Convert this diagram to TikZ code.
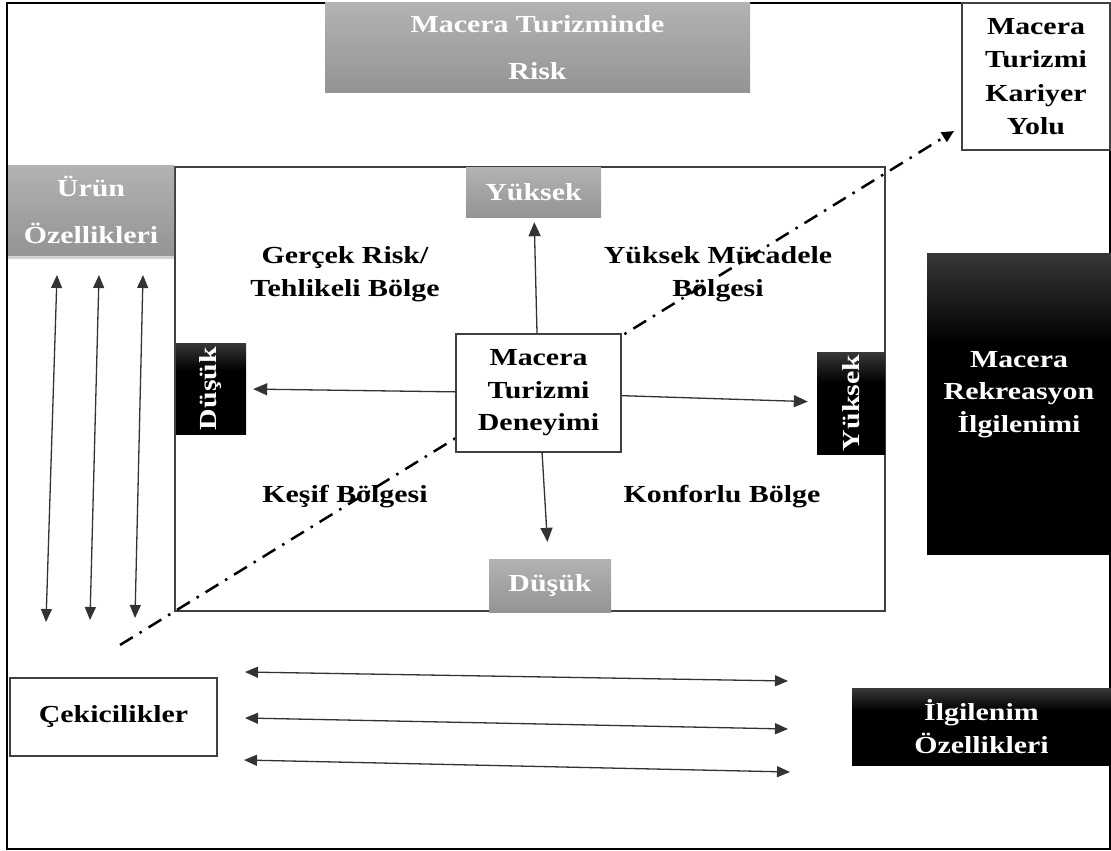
\documentclass[tikz,border=0pt]{standalone}
\usepackage{fontspec}
\setmainfont{Liberation Serif}[FakeStretch=1.22]
\usepackage{graphicx}
\usetikzlibrary{arrows.meta,shadows}
\pgfdeclareverticalshading{kara}{100bp}{color(0bp)=(black); color(60bp)=(black);
  color(75bp)=(black!78); color(100bp)=(black!78)}

\begin{document}
\begin{tikzpicture}[x=1pt,y=-1pt,
    every node/.style={font=\bfseries\fontsize{24.5}{32.5}\selectfont, align=center, inner sep=0pt},
    kutu/.style={draw=black!75, line width=1.5pt, fill=white},
    gri/.style={top color=black!30, bottom color=black!42, text=white,
      font=\bfseries\fontsize{24.5}{47.5}\selectfont},
    siyah/.style={shading=kara, text=white},
    ok/.style={line width=1.3pt, black!80, -{Triangle[length=14pt,width=12pt]}},
    ciftok/.style={line width=1.3pt, black!80,
      {Triangle[length=13pt,width=11pt]}-{Triangle[length=13pt,width=11pt]}}]
      \useasboundingbox (0,0) rectangle (1111,851);
      \draw[line width=2pt] (7,3) rectangle (1110,849);
      \draw[line width=1.5pt, black!75] (175,167) rectangle (885,611);
      % bolgeler
      \path (345,274) node (gercek) {Gerçek Risk/\\Tehlikeli Bölge}
            (718,274) node (mucadele) {Yüksek Mücadele\\Bölgesi}
            (345,497) node (kesif) {Keşif Bölgesi}
            (722,497) node (konfor) {Konforlu Bölge};
      % kutular
      \node[gri, minimum width=425pt, minimum height=89pt] (risk) at (537.5,47.5) {Macera Turizminde\\Risk};
      \node[kutu, minimum width=148pt, minimum height=147pt,
        font=\bfseries\fontsize{24.5}{33.5}\selectfont] (kariyer) at (1036,76.5) {Macera\\Turizmi\\Kariyer\\Yolu};
      \node[gri, minimum width=166pt, minimum height=90pt,
        drop shadow={opacity=0.35,shadow xshift=0pt,shadow yshift=-4pt}] (urun) at (91,210) {Ürün\\Özellikleri};
      \node[siyah, minimum width=184pt, minimum height=301pt, text depth=24pt] (rekreasyon) at (1019,403.5) {Macera\\Rekreasyon\\İlgilenimi};
      \node[kutu, line width=1.2pt, minimum width=207pt, minimum height=78pt] (cekici) at (113.5,717) {Çekicilikler};
      \node[siyah, minimum width=259pt, minimum height=77pt] (ilgi) at (981.5,726.5) {İlgilenim\\Özellikleri};
      % kariyer yolu
      \coordinate (basla) at (120,645);
      \coordinate (bitis) at (954,131);
      \draw[line width=2.5pt, dash pattern=on 15pt off 8pt on 2.5pt off 8pt,
        -{Triangle[length=12pt,width=11pt]}] (basla) -- (bitis);
      % eksenler
      \node[gri, minimum width=135pt, minimum height=50pt] (ust) at (533.5,192) {Yüksek};
      \node[gri, minimum width=122pt, minimum height=53pt] (alt) at (550,585.5) {Düşük};
      \node[siyah, minimum width=70pt, minimum height=91pt] (sol) at (211,388.5) {\rotatebox{90}{Düşük}};
      \node[siyah, minimum width=68pt, minimum height=102pt] (sag) at (851,403) {\rotatebox{90}{Yüksek}};
      \node[kutu, minimum width=165pt, minimum height=118pt] (deneyim) at (538.5,393) {Macera\\Turizmi\\Deneyimi};
      \draw[ok, shorten >=5pt] (deneyim) -- (ust);
      \draw[ok, shorten >=17pt] (deneyim) -- (alt);
      \draw[ok, shorten >=7pt] (deneyim) -- (sol);
      \draw[ok, shorten >=9pt] (deneyim) -- (sag);
      % dikey oklar
      \coordinate (u1) at (57,275);  \coordinate (a1) at (46,622);
      \coordinate (u2) at (99,275);  \coordinate (a2) at (90,620);
      \coordinate (u3) at (143,275); \coordinate (a3) at (135,618);
      \draw[ciftok] (u1) -- (a1);
      \draw[ciftok] (u2) -- (a2);
      \draw[ciftok] (u3) -- (a3);
      % yatay oklar
      \coordinate (s1) at (245,672); \coordinate (r1) at (788,681);
      \coordinate (s2) at (245,718); \coordinate (r2) at (788,729);
      \coordinate (s3) at (244,760); \coordinate (r3) at (790,772);
      \draw[ciftok] (s1) -- (r1);
      \draw[ciftok] (s2) -- (r2);
      \draw[ciftok] (s3) -- (r3);
    \end{tikzpicture}
\end{document}
